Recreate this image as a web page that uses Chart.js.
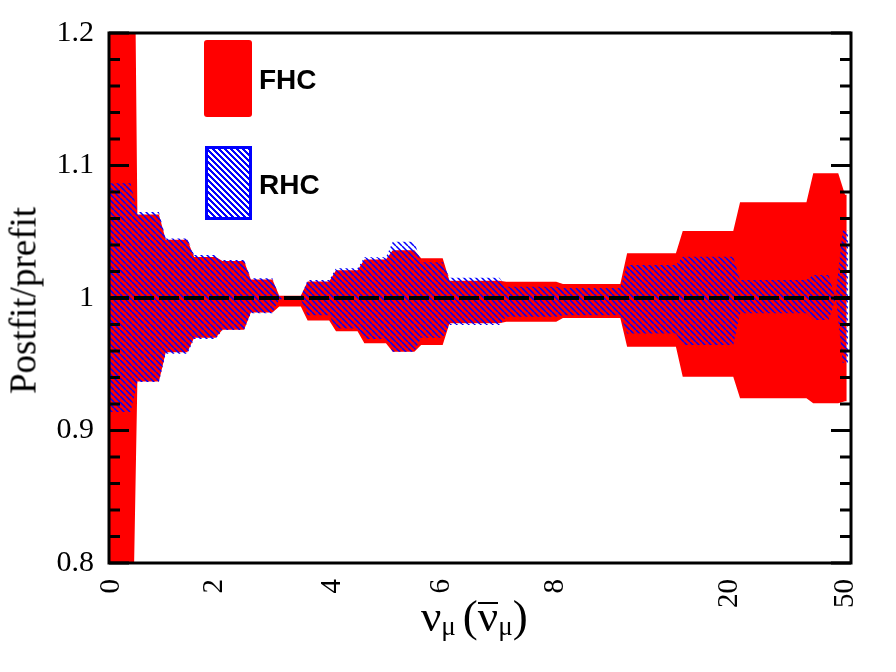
<!DOCTYPE html>
<html>
<head>
<meta charset="utf-8">
<script src="https://cdn.jsdelivr.net/npm/chart.js@4.4.1/dist/chart.umd.min.js"></script>
<style>
html,body{margin:0;padding:0;background:#fff;}
#wrap{position:relative;width:896px;height:672px;overflow:hidden;background:#fff;}
#c{position:absolute;left:0;top:0;}
.t{position:absolute;white-space:nowrap;color:#000;}
.serif{font-family:'Liberation Serif','Times New Roman',serif;}
.sans{font-family:'Liberation Sans',Arial,sans-serif;font-weight:bold;}
.sub{font-size:27px;position:relative;top:4px;}
.ob{display:inline-block;border-top:2px solid #000;line-height:24px;}
</style>
</head>
<body>
<div id="wrap">
  <canvas id="c" width="896" height="672"></canvas>
  <div class="t serif" id="ytitle" style="font-size:37px;line-height:37px;width:260px;text-align:center;left:-107px;top:281.5px;transform:rotate(-90deg);">Postfit/prefit</div>
  <div class="t serif" id="xtitle" style="font-size:45px;line-height:45px;left:421px;top:594px;">ν<span class="sub">μ</span><span style="margin-left:7px">(</span><span class="ob">ν</span><span class="sub">μ</span>)</div>
  <div style="position:absolute;left:204px;top:40px;width:48px;height:77px;background:#ff0000;border-radius:3px;"></div>
  <div class="t sans" style="font-size:28px;line-height:28px;left:259px;top:66px;">FHC</div>
  <div style="position:absolute;left:205px;top:146px;width:47px;height:74px;box-sizing:border-box;border:3px solid #0000ff;background:repeating-linear-gradient(45deg,#0000ff 0px,#0000ff 1.5px,#ffffff 1.5px,#ffffff 4.24px);"></div>
  <div class="t sans" style="font-size:28px;line-height:28px;left:259px;top:171px;">RHC</div>
</div>
<script>
// ---------------- data ----------------
// x positions are in axis display units (bin-index based axis)
const fhcEdges = [0,0.5,1,1.5,2,2.5,3,3.5,4,4.5,5,5.5,6,7,8,9.13,10.11,11.12,12.41,12.97,13.0];
const fhcHigh  = [1.6,1.063,1.044,1.031,1.028,1.014,1.0017,1.0125,1.021,1.029,1.036,1.030,1.013,1.0123,1.0106,1.0337,1.0506,1.0722,1.0941,1.078];
const fhcLow   = [0.65,0.937,0.959,0.970,0.976,0.989,0.9935,0.983,0.975,0.9658,0.9595,0.9645,0.981,0.982,0.985,0.9633,0.9406,0.9243,0.9205,0.922];

const rhcEdges = [0,0.5,1,1.5,2,2.5,3,3.5,4,4.5,5,5.5,6,7,8,9.13,10.11,11.12,12.41,12.80,12.93,13.02];
const rhcHigh  = [1.0866,1.065,1.045,1.0325,1.0287,1.0149,1.001,1.0136,1.0224,1.0307,1.0425,1.027,1.0153,1.0085,1.0075,1.0249,1.0312,1.0136,1.0174,1.0,1.051];
const rhcLow   = [0.914,0.9366,0.958,0.969,0.9758,0.9884,0.999,0.987,0.977,0.969,0.9595,0.970,0.9796,0.9859,0.987,0.9733,0.9645,0.9884,0.9834,1.0,0.951];

const xTickPos    = [0.05,1.85,3.93,5.85,7.86,10.94,12.97];
const xTickLabels = ['0','2','4','6','8','20','50'];
const yTickVals   = [0.8,0.9,1.0,1.1,1.2];
const yTickLabels = ['0.8','0.9','1','1.1','1.2'];
const refValue = 1.0;

const X_MIN = 0, X_MAX = 13.075;
const Y_MIN = 0.8, Y_MAX = 1.2, Y_MINOR = 0.02;
const RAMP = 0.12;
const FHC_COLOR = '#ff0000', RHC_COLOR = '#0000ff';

// ---------------- helpers ----------------
function bandPoints(edges, vals){
  const pts = [];
  for (let i = 0; i < vals.length; i++){
    pts.push({x: edges[i], y: vals[i]});
    const end = (i < vals.length - 1) ? edges[i+1] - RAMP : edges[i+1];
    pts.push({x: end, y: vals[i]});
  }
  return pts;
}
function makeHatch(){
  const s = 6, c = document.createElement('canvas');
  c.width = s; c.height = s;
  const g = c.getContext('2d');
  g.strokeStyle = RHC_COLOR; g.lineWidth = 1.5;
  g.beginPath();
  for (const k of [-s, 0, s]) { g.moveTo(k, 0); g.lineTo(k + s, s); }
  g.stroke();
  return g.createPattern(c, 'repeat');
}

const framePlugin = {
  id: 'frame',
  afterDatasetsDraw(chart){
    const {ctx, chartArea: a, scales: {y}} = chart;
    ctx.save();
    ctx.strokeStyle = '#000';
    ctx.lineWidth = 3;
    ctx.beginPath();
    const n = Math.round((Y_MAX - Y_MIN) / Y_MINOR);
    for (let i = 0; i <= n; i++){
      const v = Y_MIN + i * Y_MINOR;
      const py = y.getPixelForValue(v);
      const len = (i % 5 === 0) ? 20 : 11;
      ctx.moveTo(a.left, py);  ctx.lineTo(a.left + len, py);
      ctx.moveTo(a.right, py); ctx.lineTo(a.right - len, py);
    }
    ctx.stroke();
    ctx.strokeRect(a.left, a.top, a.right - a.left, a.bottom - a.top);
    ctx.restore();
  }
};

const band = (data, bg, fill) => ({
  data, backgroundColor: bg, borderWidth: 0, borderColor: 'rgba(0,0,0,0)',
  pointRadius: 0, fill: fill, tension: 0
});

new Chart(document.getElementById('c'), {
  type: 'line',
  data: {
    datasets: [
      { data: [{x: X_MIN, y: refValue}, {x: X_MAX, y: refValue}], borderColor: '#000', borderWidth: 4,
        borderDash: [20, 5], pointRadius: 0, fill: false },
      band(bandPoints(rhcEdges, rhcHigh), makeHatch(), '+1'),
      band(bandPoints(rhcEdges, rhcLow), 'rgba(0,0,0,0)', false),
      band(bandPoints(fhcEdges, fhcHigh), FHC_COLOR, '+1'),
      band(bandPoints(fhcEdges, fhcLow), 'rgba(0,0,0,0)', false)
    ]
  },
  options: {
    responsive: false,
    animation: false,
    layout: { padding: { top: 33, right: 45, left: 0, bottom: 0 } },
    plugins: { legend: { display: false }, tooltip: { enabled: false } },
    scales: {
      x: {
        type: 'linear', min: X_MIN, max: X_MAX,
        grid: { display: false }, border: { display: false },
        afterBuildTicks: s => { s.ticks = xTickPos.map(v => ({value: v})); },
        afterFit: s => { s.height = 109; },
        ticks: {
          autoSkip: false, minRotation: 90, maxRotation: 90, padding: 8,
          color: '#000', font: { family: "'Liberation Serif','Times New Roman',serif", size: 29 },
          callback: (v, i) => xTickLabels[i]
        }
      },
      y: {
        type: 'linear', min: Y_MIN, max: Y_MAX,
        grid: { display: false }, border: { display: false },
        afterBuildTicks: s => { s.ticks = yTickVals.map(v => ({value: v})); },
        afterFit: s => { s.width = 109; },
        ticks: {
          padding: 7, color: '#000',
          font: { family: "'Liberation Serif','Times New Roman',serif", size: 30 },
          callback: (v, i) => yTickLabels[i]
        }
      }
    }
  },
  plugins: [framePlugin]
});
</script>
</body>
</html>
